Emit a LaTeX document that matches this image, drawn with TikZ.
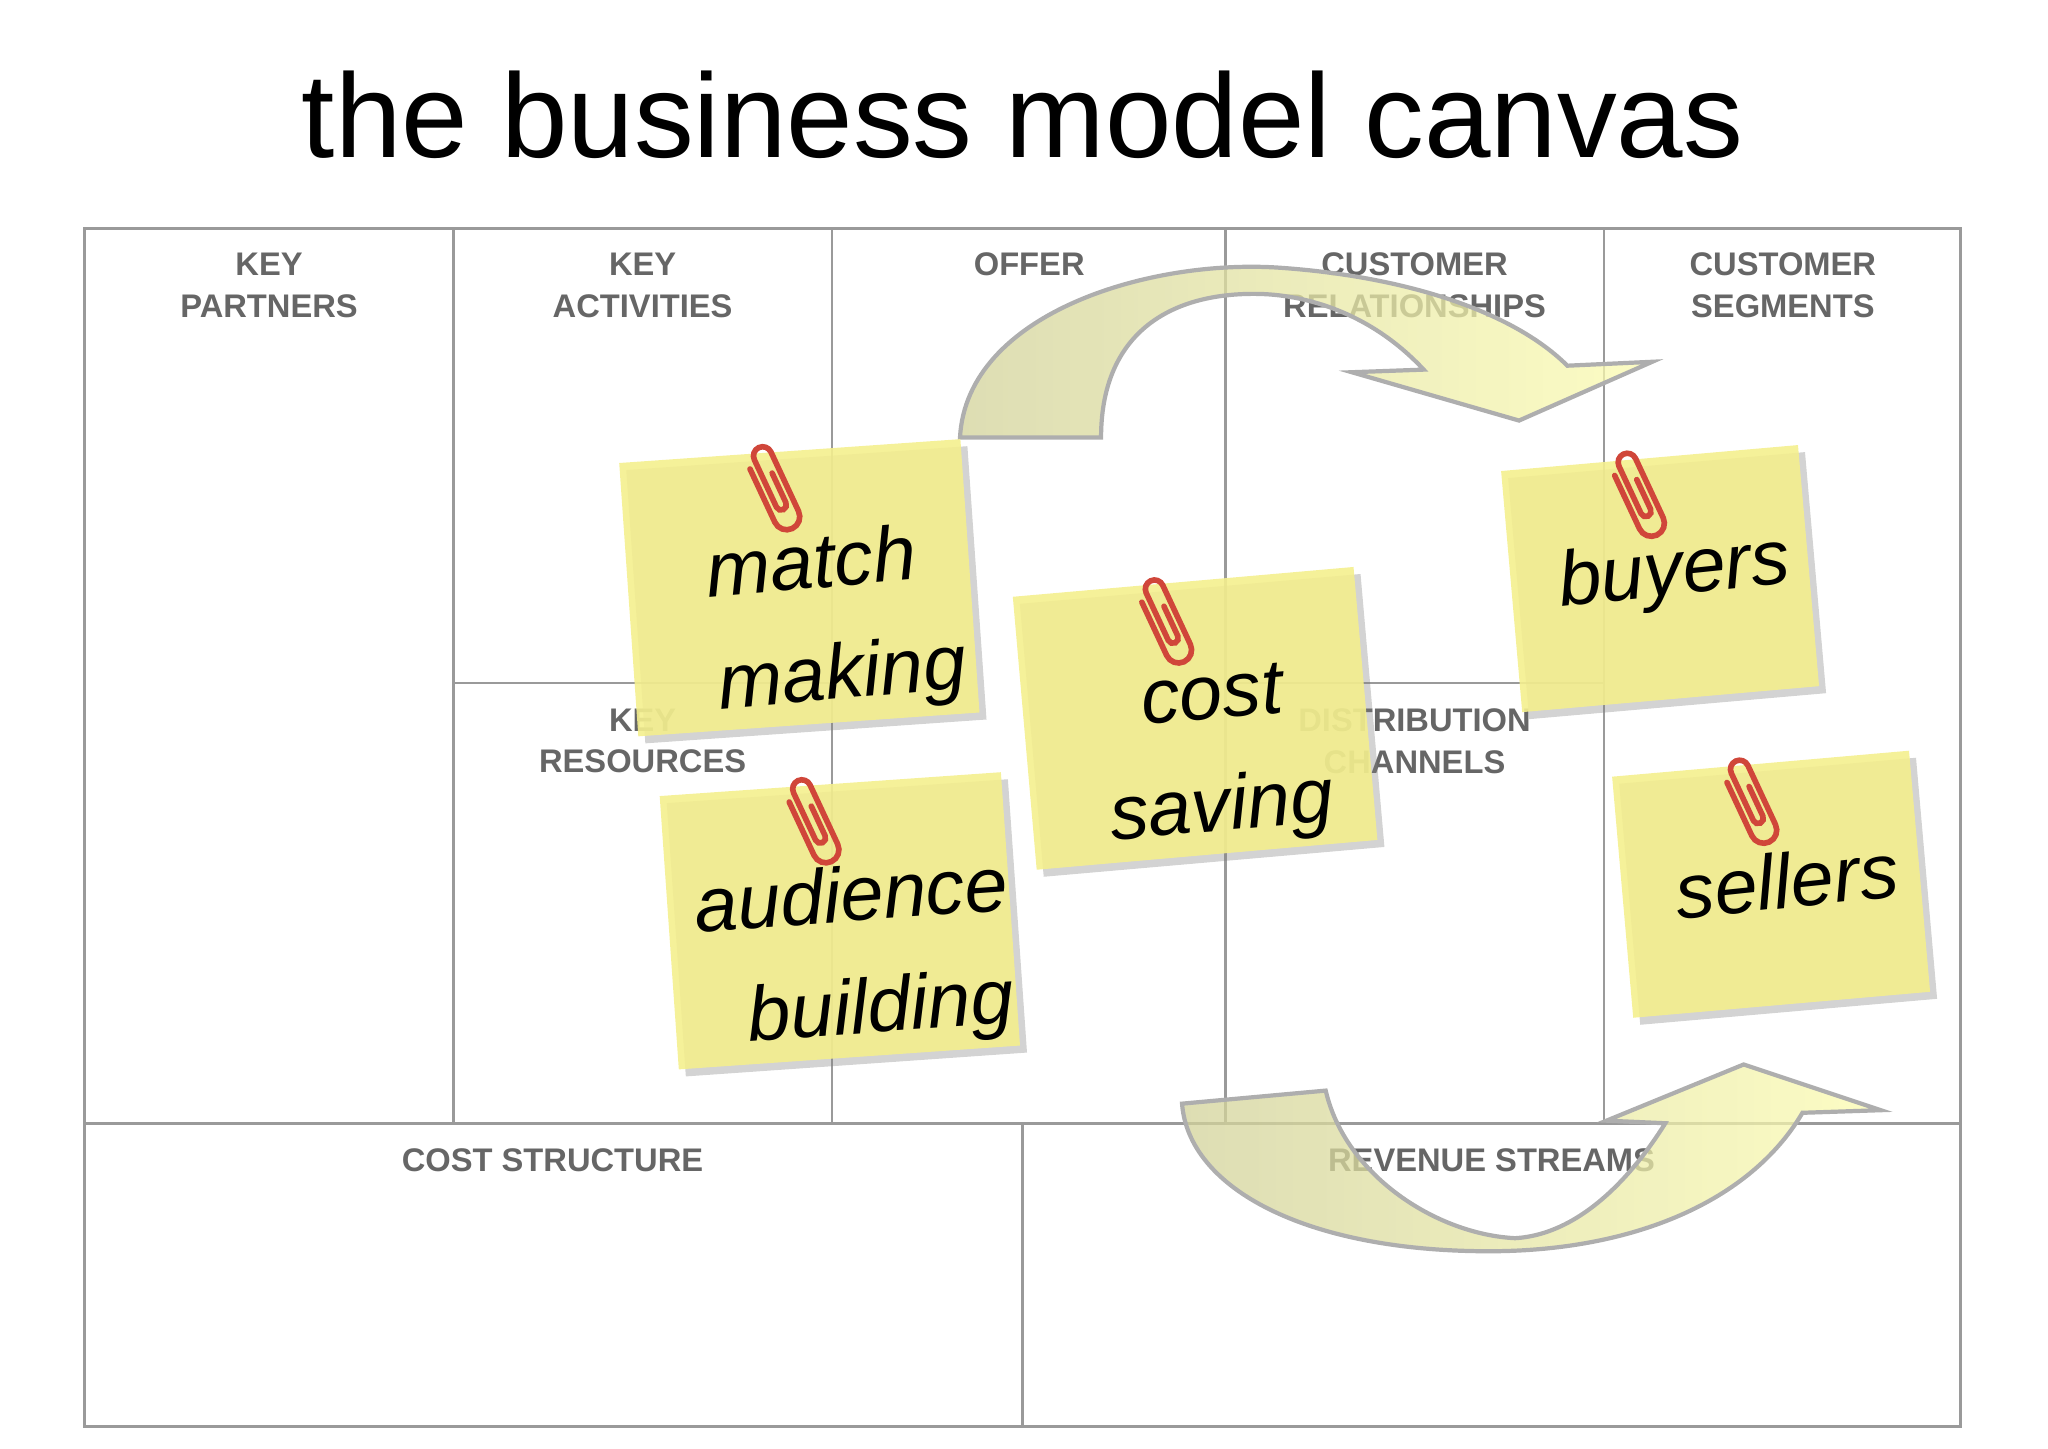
\documentclass[tikz,border=0pt]{standalone}
\usepackage{fontspec}
\setmainfont{Liberation Sans}
\usetikzlibrary{shadows}
\definecolor{gridc}{HTML}{9A9A9A}
\definecolor{labc}{HTML}{666666}
\definecolor{notec}{HTML}{F4EF8E}
\definecolor{clipc}{HTML}{D0463A}
\definecolor{arl}{HTML}{D2D29A}
\definecolor{arr}{HTML}{FBFBB0}
\tikzset{
 gridline/.style={draw=gridc,line width=0.8pt},
 lab/.style={text=labc,font=\fontsize{9.3}{11.9}\selectfont\bfseries,align=center,anchor=north},
 note/.style={fill=notec,fill opacity=0.9,text opacity=1,drop shadow={shadow xshift=2pt,shadow yshift=-2pt,opacity=0.35},minimum width=3.42cm,minimum height=2.74cm,align=center,inner sep=0pt},
 smallnote/.style={note,minimum width=2.98cm,minimum height=2.42cm},
 hand/.style={font=\fontsize{22}{38}\selectfont\itshape},
 bigarrow/.style={draw=gridc!80,line width=1.2pt,left color=arl,right color=arr,fill opacity=0.75},
 pics/pclip/.style={code={
  \draw[clipc,line width=1.6pt,line cap=round,yscale=-1]
   (0,-10) -- (0,-55) arc[start angle=180,end angle=360,radius=10] -- (20,-5)
   arc[start angle=0,end angle=180,radius=7] -- (6,-45)
   arc[start angle=180,end angle=360,radius=4] -- (14,-20);}}
}
\begin{document}
\begin{tikzpicture}[x=0.01306cm,y=-0.01306cm]
\useasboundingbox (0,0) rectangle (1568,1108.7);
\node[font=\fontsize{34}{40}\selectfont] (title) at (783,88) {the business model canvas};
% grid
\draw[gridline] (65,175) rectangle (1501,1092);
\foreach \x in {347,637,938,1228} \draw[gridline] (\x,175) -- (\x,860);
\draw[gridline] (65,860) -- (1501,860);
\draw[gridline] (347,523) -- (637,523);
\draw[gridline] (938,523) -- (1228,523);
\draw[gridline] (783,860) -- (783,1092);
% labels
\node[lab] (kp) at (206,184) {KEY\\PARTNERS};
\node[lab] (ka) at (492,184) {KEY\\ACTIVITIES};
\node[lab] (of) at (788,184) {OFFER};
\node[lab] (cr) at (1083,184) {CUSTOMER\\RELATIONSHIPS};
\node[lab] (cs) at (1365,184) {CUSTOMER\\SEGMENTS};
\node[lab] (kr) at (492,533) {KEY\\RESOURCES};
\node[lab] (dc) at (1083,533) {DISTRIBUTION\\CHANNELS};
\node[lab] (cst) at (423,870) {COST STRUCTURE};
\node[lab] (rs) at (1142,870) {REVENUE STREAMS};
% arrows
\path[bigarrow] (735,335) .. controls (740,240) and (880,198) .. (980,205)
  .. controls (1080,212) and (1160,240) .. (1200,280) -- (1265,277) -- (1163,322)
  -- (1035,285) -- (1090,283) .. controls (1050,240) and (1000,225) .. (960,225)
  .. controls (890,225) and (843,260) .. (843,335) -- cycle;
\path[bigarrow] (905,845) -- (1015,835) .. controls (1030,900) and (1100,945) .. (1160,948)
  .. controls (1210,945) and (1250,900) .. (1275,860) -- (1230,858) -- (1335,815)
  -- (1440,850) -- (1380,852) .. controls (1340,920) and (1250,958) .. (1140,958)
  .. controls (1000,958) and (910,910) .. (905,845) -- cycle;
% notes
\node[note,rotate=4] (n1) at (612,450) {};
\node[hand,rotate=5,align=center] (t1) at (625,478) {match\\[-6pt]\ \ making};
\pic[rotate=25] at (570,350) {pclip};
\node[note,rotate=4] (n2) at (643,705) {};
\node[hand,rotate=4,align=center] (t2) at (655,733) {audience\\[-6pt]\ \ building};
\pic[rotate=25] at (600,605) {pclip};
\node[note,rotate=5] (n3) at (915,550) {};
\node[hand,rotate=5,align=center] (t3) at (932,580) {cost\\[-6pt]saving};
\pic[rotate=25] at (870,452) {pclip};
\node[smallnote,rotate=5] (n4) at (1271,443) {};
\node[hand,rotate=6] (t4) at (1282,440) {buyers};
\pic[rotate=25] at (1232,355) {pclip};
\node[smallnote,rotate=5] (n5) at (1356,677) {};
\node[hand,rotate=6] (t5) at (1368,674) {sellers};
\pic[rotate=25] at (1318,590) {pclip};
\end{tikzpicture}
\end{document}
